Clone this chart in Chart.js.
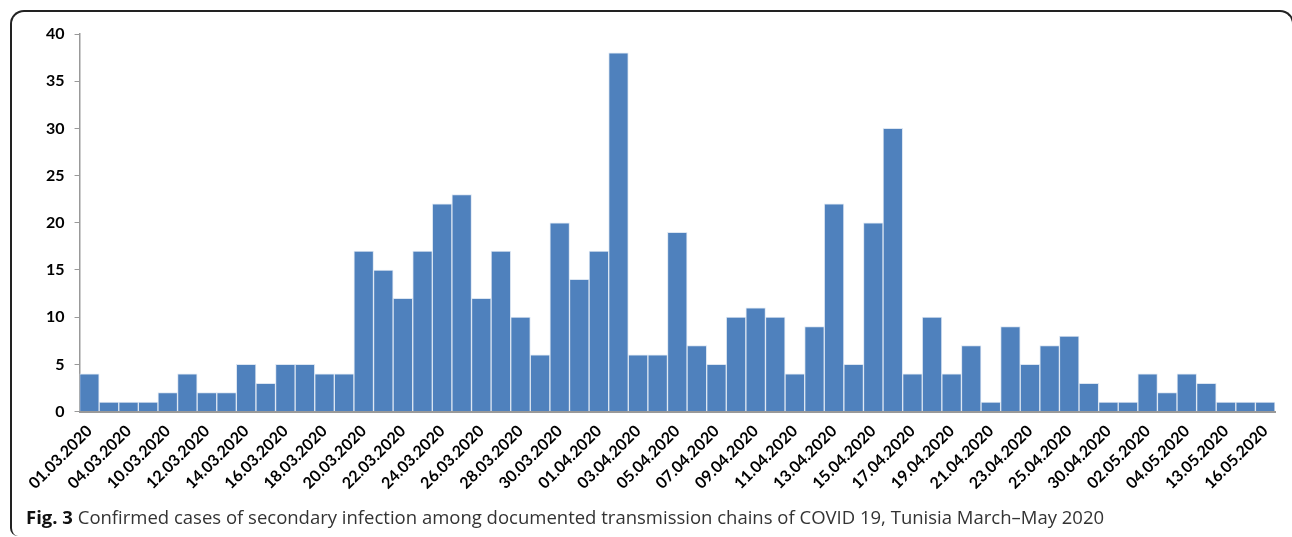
<!DOCTYPE html>
<html>
<head>
<meta charset="utf-8">
<script src="https://cdn.jsdelivr.net/npm/chart.js@4"></script>
<style>
  html, body { margin: 0; padding: 0; background: #fff; width: 1292px; height: 537px; overflow: hidden; }
  #frame { position: absolute; left: 10px; top: 10px; width: 1284px; height: 526px; border: 2px solid #222; border-bottom: none; border-radius: 14px 14px 0 8px; box-sizing: border-box; }
  #wrap { position: absolute; left: 0; top: 0; width: 1292px; height: 537px; }
  #caption { position: absolute; left: 26px; top: 504px; font-family: "Open Sans", sans-serif; font-size: 18.5px; line-height: 25px; color: #333; white-space: nowrap; }
  #caption b { color: #111; }
</style>
</head>
<body>
<div id="frame"></div>
<div id="wrap"><canvas id="myChart" width="1292" height="537"></canvas></div>
<div id="caption"><b>Fig. 3</b> Confirmed cases of secondary infection among documented transmission chains of COVID 19, Tunisia March–May 2020</div>
<script>
// dates (only every other one is printed on the axis)
var dates = [
  '01.03.2020', '02.03.2020', '04.03.2020', '08.03.2020', '10.03.2020', '11.03.2020',
  '12.03.2020', '13.03.2020', '14.03.2020', '15.03.2020', '16.03.2020', '17.03.2020',
  '18.03.2020', '19.03.2020', '20.03.2020', '21.03.2020', '22.03.2020', '23.03.2020',
  '24.03.2020', '25.03.2020', '26.03.2020', '27.03.2020', '28.03.2020', '29.03.2020',
  '30.03.2020', '31.03.2020', '01.04.2020', '02.04.2020', '03.04.2020', '04.04.2020',
  '05.04.2020', '06.04.2020', '07.04.2020', '08.04.2020', '09.04.2020', '10.04.2020',
  '11.04.2020', '12.04.2020', '13.04.2020', '14.04.2020', '15.04.2020', '16.04.2020',
  '17.04.2020', '18.04.2020', '19.04.2020', '20.04.2020', '21.04.2020', '22.04.2020',
  '23.04.2020', '24.04.2020', '25.04.2020', '27.04.2020', '30.04.2020', '01.05.2020',
  '02.05.2020', '03.05.2020', '04.05.2020', '06.05.2020', '13.05.2020', '14.05.2020',
  '16.05.2020'
];
var cases = [
  4, 1, 1, 1, 2, 4, 2, 2, 5, 3,
  5, 5, 4, 4, 17, 15, 12, 17, 22, 23,
  12, 17, 10, 6, 20, 14, 17, 38, 6, 6,
  19, 7, 5, 10, 11, 10, 4, 9, 22, 5,
  20, 30, 4, 10, 4, 7, 1, 9, 5, 7,
  8, 3, 1, 1, 4, 2, 4, 3, 1, 1,
  1
];
var yMax = 40;
var yStep = 5;

var ctx = document.getElementById('myChart').getContext('2d');
var myChart = new Chart(ctx, {
  type: 'bar',
  data: {
    labels: dates,
    datasets: [{
      data: cases,
      backgroundColor: '#4F81BD',
      borderColor: '#dce6f2',
      borderWidth: {left: 1, right: 1, top: 1, bottom: 0},
      borderSkipped: false,
      categoryPercentage: 1.0,
      barPercentage: 1.0
    }]
  },
  options: {
    responsive: false,
    animation: false,
    layout: { padding: {left: 36, top: 34, right: 17, bottom: 42} },
    plugins: { legend: { display: false }, tooltip: { enabled: false } },
    scales: {
      x: {
        grid: { display: false },
        border: { color: '#999', width: 2 },
        ticks: {
          autoSkip: false,
          maxRotation: 45,
          minRotation: 45,
          padding: 2,
          color: '#000',
          font: { family: 'Lato', size: 16, weight: 'bold' },
          callback: function (value, index) {
            return index % 2 === 0 ? this.getLabelForValue(value) : '';
          }
        }
      },
      y: {
        min: 0,
        max: yMax,
        grid: { drawOnChartArea: false, drawTicks: true, tickLength: 5, color: '#999' },
        border: { color: '#999', width: 1.5 },
        ticks: {
          stepSize: yStep,
          padding: 10,
          color: '#000',
          font: { family: 'Lato', size: 16, weight: 'bold' }
        }
      }
    }
  }
});
</script>
</body>
</html>
